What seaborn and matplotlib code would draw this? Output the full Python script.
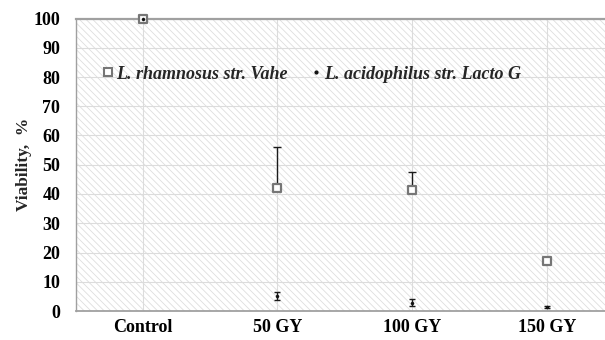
import matplotlib
matplotlib.use("Agg")
import matplotlib.pyplot as plt
from matplotlib.lines import Line2D
from matplotlib.patches import Rectangle
import numpy as np
import pandas as pd
import seaborn as sns

# Viability after gamma irradiation
categories = ["Control", "50 GY", "100 GY", "150 GY"]
rhamnosus = [100.0, 42.1, 41.2, 17.0]
rhamnosus_err_up = [0.0, 14.0, 6.3, 0.0]
acidophilus = [100.0, 5.0, 2.9, 1.3]
acidophilus_err = [0.0, 1.4, 1.1, 0.4]
series_names = ["L. rhamnosus str. Vahe", "L. acidophilus str. Lacto G"]
y_ticks = list(range(0, 101, 10))

sns.set_theme(style="white")
plt.rcParams["font.family"] = ["Liberation Serif", "DejaVu Serif"]
plt.rcParams["font.weight"] = "bold"
plt.rcParams["hatch.linewidth"] = 0.6

df = pd.DataFrame({
    "dose": categories * 2,
    "viability": rhamnosus + acidophilus,
    "strain": [series_names[0]] * 4 + [series_names[1]] * 4,
})

fig = plt.figure(figsize=(6.05, 3.40), dpi=100)
ax = fig.add_axes([75.5 / 605, 29 / 340, (614 - 75.5) / 605, (311 - 18.5) / 340])

# hatched plot area
ax.add_patch(Rectangle((0, 0), 1, 1, transform=ax.transAxes, facecolor="white",
                       edgecolor="#dedede", hatch="\\" * 5, linewidth=0, zorder=0))

x = np.arange(len(categories))

# error bars (upper only for L. rhamnosus)
ax.errorbar(x, rhamnosus, yerr=[np.zeros(4), rhamnosus_err_up], fmt="none",
            ecolor="#1a1a1a", elinewidth=1.0, capsize=2.9, capthick=1.0, zorder=2)
ax.errorbar(x, acidophilus, yerr=acidophilus_err, fmt="none",
            ecolor="#1a1a1a", elinewidth=1.0, capsize=2.2, capthick=1.0, zorder=2)

sns.scatterplot(data=df[df.strain == series_names[0]], x="dose", y="viability",
                marker="s", s=34, color="white", edgecolor="#767676",
                linewidth=1.6, ax=ax, zorder=3, legend=False, clip_on=False)
sns.scatterplot(data=df[df.strain == series_names[1]], x="dose", y="viability",
                marker="o", s=5, color="#111111", edgecolor="#111111",
                linewidth=0.3, ax=ax, zorder=4, legend=False, clip_on=False)

ax.set_xlim(-0.5, 3.5)
ax.set_ylim(0, 100)
ax.set_yticks(y_ticks)
ax.set_xticks(x)
ax.set_xticklabels(categories)

ax.grid(True, color="#dcdcdc", linewidth=0.8, zorder=1)
ax.set_axisbelow(True)
ax.tick_params(axis="both", length=0, labelsize=13, colors="black")
ax.tick_params(axis="y", pad=11)
ax.tick_params(axis="x", pad=6)
for lab in ax.get_xticklabels() + ax.get_yticklabels():
    lab.set_fontweight("bold")

ax.set_xlabel("")
ax.set_ylabel("Viability,  %", fontsize=12.5, fontweight="bold", labelpad=1)

for side in ["left", "bottom", "top"]:
    ax.spines[side].set_visible(True)
    ax.spines[side].set_color("#a0a0a0")
ax.spines["left"].set_linewidth(1.0)
ax.spines["bottom"].set_linewidth(1.3)
ax.spines["top"].set_linewidth(1.6)
ax.spines["right"].set_visible(False)

handles = [
    Line2D([], [], linestyle="none", marker="s", markersize=5.5,
           markerfacecolor="white", markeredgecolor="#767676", markeredgewidth=1.5),
    Line2D([], [], linestyle="none", marker="o", markersize=2,
           markerfacecolor="#111111", markeredgecolor="#111111"),
]
ax.legend(handles, series_names, ncol=2, frameon=False, loc="center left",
          bbox_to_anchor=(0.022, 0.81), handlelength=0.5, handletextpad=0.2,
          columnspacing=1.3, prop={"family": "Liberation Serif", "weight": "bold",
                                    "style": "italic", "size": 13})

fig.savefig("out.png", dpi=100)
